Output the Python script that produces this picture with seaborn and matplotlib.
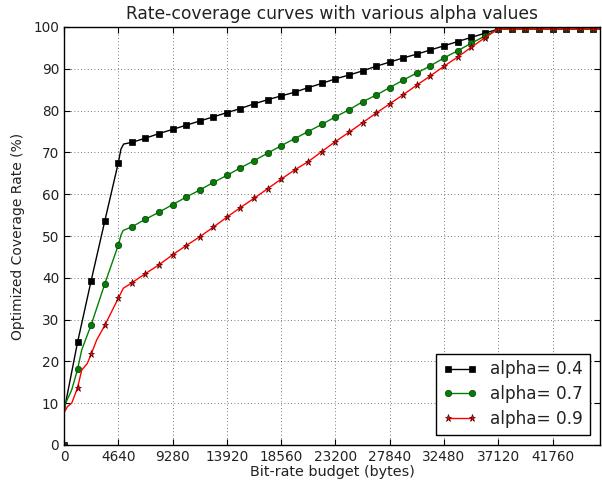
import numpy as np
import pandas as pd
import matplotlib
matplotlib.use("Agg")
import matplotlib.pyplot as plt
import seaborn as sns

# ---- data -------------------------------------------------------------
mark_x = [0, 1160, 2320, 3480, 4640, 5800, 6960, 8120, 9280, 10440,
          11600, 12760, 13920, 15080, 16240, 17400, 18560, 19720, 20880, 22040,
          23200, 24360, 25520, 26680, 27840, 29000, 30160, 31320, 32480, 33640,
          34800, 35960, 37120, 38280, 39440, 40600, 41760, 42920, 44080, 45240]

black_mark_y = [0, 24.6, 39.3, 53.5, 67.5, 72.4, 73.4, 74.5, 75.5, 76.5,
                77.5, 78.5, 79.5, 80.5, 81.6, 82.6, 83.5, 84.4, 85.5, 86.5,
                87.6, 88.5, 89.5, 90.6, 91.6, 92.6, 93.5, 94.5, 95.5, 96.5,
                97.5, 98.5, 99.5, 99.5, 99.5, 99.5, 99.5, 99.5, 99.5, 99.5]
black_extra_x = [30, 4870, 5100, 45820]
black_extra_y = [8.5, 70.8, 72.0, 99.5]

green_mark_y = [0, 18.1, 28.7, 38.5, 47.8, 52.2, 54.0, 55.7, 57.5, 59.3,
                61.0, 62.8, 64.5, 66.3, 68.0, 69.8, 71.6, 73.3, 75.0, 76.7,
                78.5, 80.2, 82.1, 83.7, 85.5, 87.3, 89.0, 90.7, 92.6, 94.3,
                96.1, 97.8, 99.5, 99.5, 99.5, 99.5, 99.5, 99.5, 99.5, 99.5]
green_extra_x = [30, 140, 660, 1510, 1990, 4870, 5050, 45820]
green_extra_y = [8.0, 10.0, 13.2, 22.7, 26.3, 50.2, 51.3, 99.5]

red_mark_y = [0, 13.7, 21.7, 28.6, 35.1, 38.8, 41.0, 43.1, 45.5, 47.7,
              49.8, 52.1, 54.5, 56.8, 59.0, 61.3, 63.6, 65.8, 67.8, 70.2,
              72.6, 74.8, 77.1, 79.4, 81.6, 83.8, 86.1, 88.3, 90.6, 92.8,
              95.1, 97.4, 99.5, 99.5, 99.5, 99.5, 99.5, 99.5, 99.5, 99.5]
red_extra_x = [20, 300, 660, 1510, 1990, 2790, 5070, 45820]
red_extra_y = [7.8, 9.2, 10.0, 17.9, 19.5, 25.1, 37.5, 99.5]

labels = ["alpha= 0.4", "alpha= 0.7", "alpha= 0.9"]
x_ticks = [0, 4640, 9280, 13920, 18560, 23200, 27840, 32480, 37120, 41760]
y_ticks = [0, 10, 20, 30, 40, 50, 60, 70, 80, 90, 100]

# ---- style ------------------------------------------------------------
sns.set_style("ticks")
plt.rcParams["font.family"] = ["DejaVu Sans"]
plt.rcParams.update({
    "xtick.direction": "in", "ytick.direction": "in",
    "xtick.top": True, "ytick.right": True,
    "xtick.major.size": 4, "ytick.major.size": 4,
    "axes.edgecolor": "black", "axes.linewidth": 1.0,
    "text.color": "#222222", "axes.labelcolor": "#222222",
    "xtick.color": "black", "ytick.color": "black",
    "xtick.labelcolor": "#222222", "ytick.labelcolor": "#222222",
})

fig = plt.figure(figsize=(6.02, 4.83), dpi=100)
ax = fig.add_axes([64 / 602, 38 / 483, 536 / 602, 418 / 483])


def build(extra_x, extra_y, mark_y):
    df = pd.DataFrame({"x": list(mark_x) + list(extra_x),
                       "y": list(mark_y) + list(extra_y)})
    df["mark"] = [True] * len(mark_x) + [False] * len(extra_x)
    df = df.sort_values("x").reset_index(drop=True)
    return df


series = [
    (build(black_extra_x, black_extra_y, black_mark_y), "black", "s", labels[0], "black", 4.2),
    (build(green_extra_x, green_extra_y, green_mark_y), "green", "o", labels[1], "#113311", 4.6),
    (build(red_extra_x, red_extra_y, red_mark_y), "red", "*", labels[2], "#550000", 5.2),
]

for df, col, mk, lab, mec, ms in series:
    sns.lineplot(data=df, x="x", y="y", ax=ax, color=col, marker=mk,
                 markevery=df["mark"].tolist(), markersize=ms,
                 markeredgecolor=mec, markeredgewidth=0.5,
                 linewidth=1.0, label=lab, estimator=None, sort=False)

ax.set_xlim(0, 45820)
ax.set_ylim(0, 100)
ax.set_xticks(x_ticks)
ax.set_yticks(y_ticks)
ax.tick_params(labelsize=9.8)
ax.grid(True, linestyle=(0, (1, 3)), color="black", linewidth=0.6, alpha=0.7)

ax.set_title("Rate-coverage curves with various alpha values", fontsize=12.3, pad=6)
ax.set_xlabel("Bit-rate budget (bytes)", fontsize=10.4, labelpad=1)
ax.set_ylabel("Optimized Coverage Rate (%)", fontsize=10, labelpad=6)

leg = ax.legend(loc="lower right", fontsize=12.2, numpoints=2, fancybox=False,
                framealpha=1, edgecolor="black", handlelength=2.0,
                borderaxespad=0.6, labelspacing=0.4)
leg.get_frame().set_linewidth(1.0)

fig.savefig("out.png", dpi=100)
